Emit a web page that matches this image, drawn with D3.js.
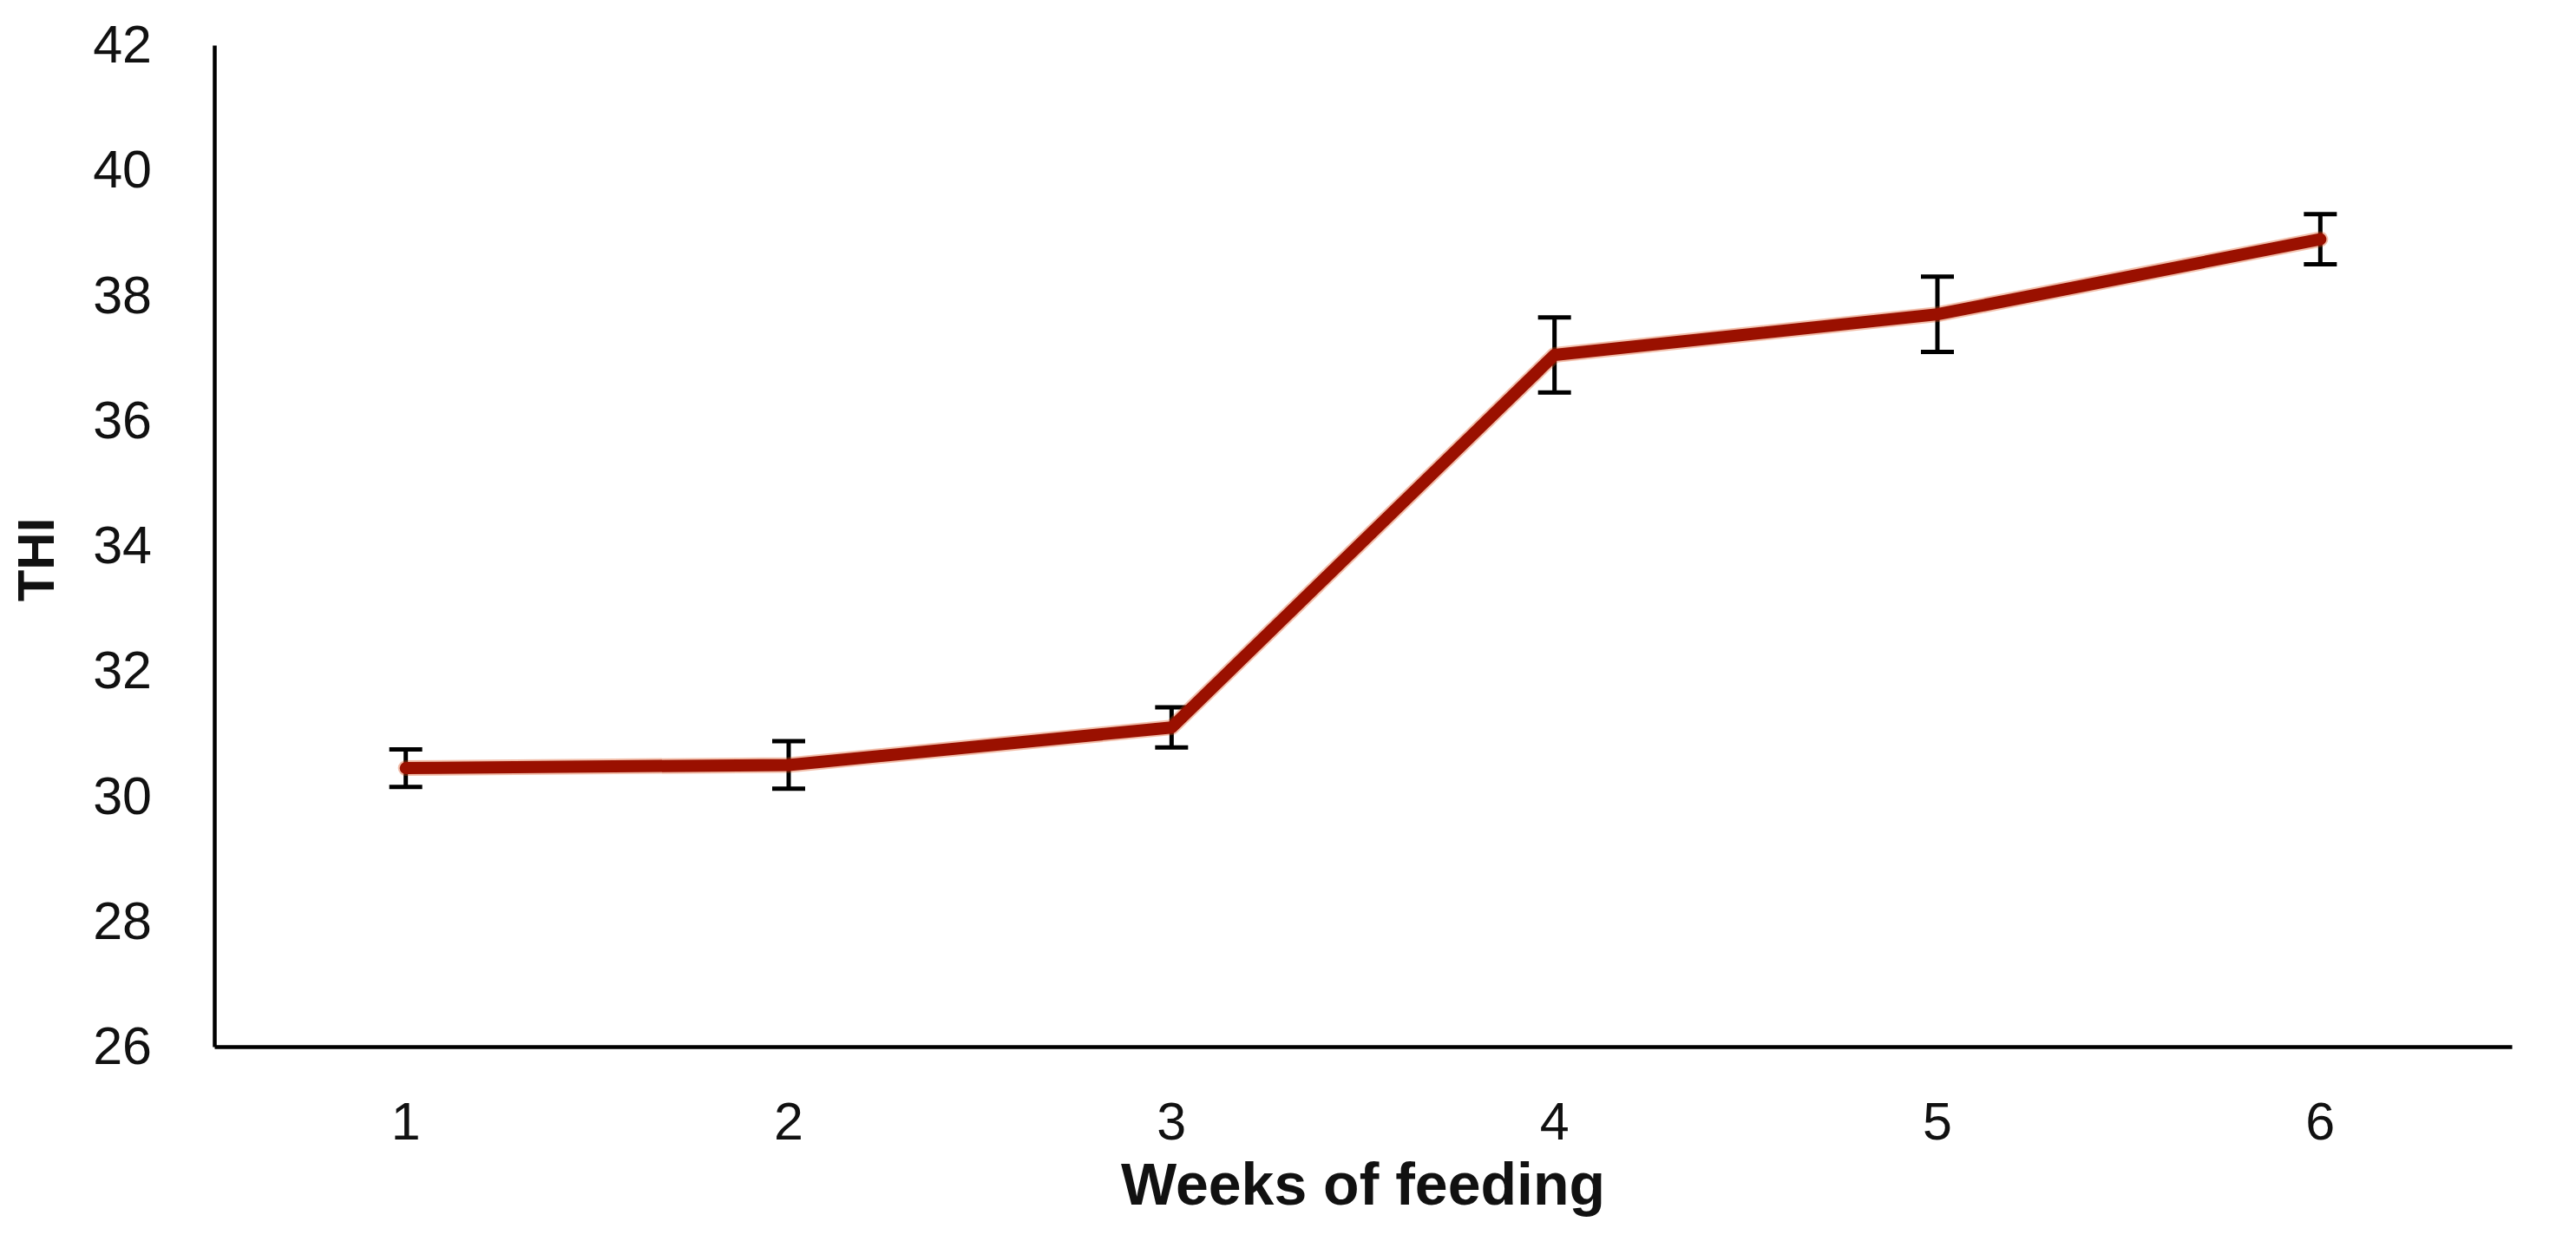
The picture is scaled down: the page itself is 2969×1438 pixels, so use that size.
<!DOCTYPE html>
<html>
<head>
<meta charset="utf-8">
<script src="https://cdn.jsdelivr.net/npm/d3@7"></script>
<style>
  html, body { margin: 0; padding: 0; background: #fff; }
  svg { display: block; font-family: "Liberation Sans", Arial, sans-serif; }
</style>
</head>
<body>
<div id="viz"></div>
<script>
// THI by week of feeding
const weeks = ['1', '2', '3', '4', '5', '6'];
const thi = [30.45, 30.5, 31.1, 37.05, 37.7, 38.9];
const thiErr = [0.3, 0.38, 0.32, 0.6, 0.6, 0.4];
const yTicks = [26, 28, 30, 32, 34, 36, 38, 40, 42];

const W = 2969, H = 1438;
const margin = {top: 52, right: 74, bottom: 232, left: 247};

const svg = d3.select('#viz').append('svg')
  .attr('width', W).attr('height', H);

const x = d3.scaleBand().domain(weeks)
  .range([margin.left, W - margin.right]);
const y = d3.scaleLinear().domain([26, 42])
  .range([H - margin.bottom, margin.top]);

const cx = d => x(d) + x.bandwidth() / 2;

// axes
const yAxis = svg.append('g')
  .attr('transform', `translate(${margin.left},0)`)
  .call(d3.axisLeft(y).tickValues(yTicks).tickSize(0).tickPadding(72));
yAxis.select('.domain').attr('stroke', '#000').attr('stroke-width', 4.5);
yAxis.selectAll('text').attr('font-size', 61).attr('fill', '#111');

const xAxis = svg.append('g')
  .attr('transform', `translate(0,${H - margin.bottom})`)
  .call(d3.axisBottom(x).tickSize(0).tickPadding(64));
xAxis.select('.domain').attr('stroke', '#000').attr('stroke-width', 4.5);
xAxis.selectAll('text').attr('font-size', 61).attr('fill', '#111');

// error bars
const rows = weeks.map((w, i) => ({w, v: thi[i], e: thiErr[i]}));
const capW = 19;
const eb = svg.append('g').attr('stroke', '#000').attr('stroke-width', 5);
eb.selectAll('line.v').data(rows).join('line').attr('class', 'v')
  .attr('x1', d => cx(d.w)).attr('x2', d => cx(d.w))
  .attr('y1', d => y(d.v - d.e)).attr('y2', d => y(d.v + d.e));
eb.selectAll('line.top').data(rows).join('line').attr('class', 'top')
  .attr('x1', d => cx(d.w) - capW).attr('x2', d => cx(d.w) + capW)
  .attr('y1', d => y(d.v + d.e)).attr('y2', d => y(d.v + d.e));
eb.selectAll('line.bot').data(rows).join('line').attr('class', 'bot')
  .attr('x1', d => cx(d.w) - capW).attr('x2', d => cx(d.w) + capW)
  .attr('y1', d => y(d.v - d.e)).attr('y2', d => y(d.v - d.e));

// the line
const line = d3.line().x(d => cx(d.w)).y(d => y(d.v));
svg.append('path').datum(rows)
  .attr('fill', 'none')
  .attr('stroke', '#d9480f').attr('stroke-opacity', 0.35)
  .attr('stroke-width', 18)
  .attr('stroke-linejoin', 'round').attr('stroke-linecap', 'round')
  .attr('d', line);
svg.append('path').datum(rows)
  .attr('fill', 'none')
  .attr('stroke', '#9a1000')
  .attr('stroke-width', 14)
  .attr('stroke-linejoin', 'round').attr('stroke-linecap', 'round')
  .attr('d', line);

// axis titles
svg.append('text')
  .attr('x', (margin.left + W - margin.right) / 2)
  .attr('y', 1388)
  .attr('text-anchor', 'middle')
  .attr('font-size', 68).attr('font-weight', 'bold').attr('fill', '#111')
  .text('Weeks of feeding');

svg.append('text')
  .attr('transform', `translate(62,645) rotate(-90)`)
  .attr('text-anchor', 'middle')
  .attr('font-size', 60).attr('font-weight', 'bold').attr('fill', '#111')
  .text('THI');
</script>
</body>
</html>
